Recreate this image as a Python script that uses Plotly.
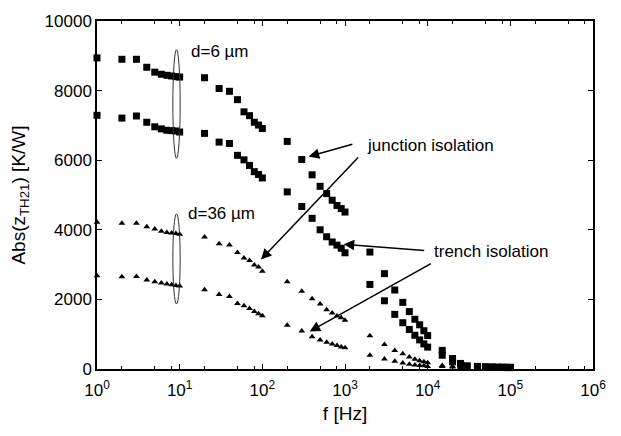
import plotly.graph_objects as go

# Frequency points (Hz)
freq = [1, 2, 3, 4, 5, 6, 7, 8, 9, 10,
        20, 30, 40, 50, 60, 70, 80, 90, 100,
        200, 300, 400, 500, 600, 700, 800, 900, 1000,
        2000, 3000, 4000, 5000, 6000, 7000, 8000, 9000, 10000,
        15000, 20000, 25000, 30000, 40000, 50000, 60000, 70000, 80000, 90000, 100000]

# |Z_TH21| in K/W, d = 6 um, junction isolation
junc_d6 = [8940, 8900, 8900, 8670, 8530, 8470, 8440, 8420, 8400, 8390,
           8370, 8060, 7980, 7740, 7390, 7280, 7090, 7010, 6910,
           6540, 6020, 5580, 5250, 5040, 4850, 4700, 4610, 4510,
           3360, 2740, 2270, 1915, 1650, 1430, 1270, 1100, 960,
           535, 300, 160, 90, 75, 65, 60, 55, 55, 50, 50]

# d = 6 um, trench isolation
trench_d6 = [7290, 7210, 7270, 7090, 6960, 6900, 6860, 6850, 6840, 6810,
             6770, 6520, 6480, 6140, 6010, 5850, 5670, 5590, 5490,
             5090, 4670, 4330, 4000, 3800, 3650, 3560, 3470, 3340,
             2430, 1960, 1570, 1330, 1136, 970, 836, 721, 629,
             394, 206, 140, 80, 65, 55, 50, 45, 45, 40, 40]

# d = 36 um, junction isolation
junc_d36 = [4220, 4190, 4190, 4090, 4020, 3960, 3925, 3905, 3895, 3870,
            3790, 3600, 3560, 3350, 3190, 3120, 2990, 2930, 2810,
            2510, 2235, 2020, 1870, 1700, 1606, 1520, 1473, 1400,
            958, 704, 535, 441, 347, 282, 234, 206, 178,
            100, 80, 50, 40, 35, 30, 30, 25, 25, 25, 25]

# d = 36 um, trench isolation
trench_d36 = [2680, 2650, 2660, 2560, 2510, 2470, 2440, 2420, 2400, 2385,
              2280, 2140, 2085, 1880, 1820, 1740, 1650, 1590, 1530,
              1258, 1090, 930, 836, 769, 721, 676, 629, 610,
              394, 290, 220, 175, 140, 113, 100, 90, 75,
              70, 60, 40, 30, 25, 20, 20, 20, 20, 20, 20]

x_tickvals = [1, 10, 100, 1000, 10000, 100000, 1000000]
x_ticktext = ["10<sup>0</sup>", "10<sup>1</sup>", "10<sup>2</sup>", "10<sup>3</sup>",
              "10<sup>4</sup>", "10<sup>5</sup>", "10<sup>6</sup>"]
x_minor = [m * 10 ** k for k in range(6) for m in (2, 5, 8)]
y_tickvals = [0, 2000, 4000, 6000, 8000, 10000]

FONT = "Liberation Sans, Arial, Helvetica, sans-serif"

fig = go.Figure()
for vals, sym, size in [(junc_d6, "square", 7), (trench_d6, "square", 7),
                        (junc_d36, "triangle-up", 6), (trench_d36, "triangle-up", 6)]:
    fig.add_trace(go.Scatter(x=freq, y=vals, mode="markers",
                             marker=dict(symbol=sym, size=size, color="black",
                                         line=dict(width=0)),
                             showlegend=False, cliponaxis=False))

# Ellipses grouping the curves at 10 Hz
for y0, y1 in [(6056, 9172), (1868, 4459)]:
    fig.add_shape(type="circle", xref="x", yref="y", x0=8.27, x1=10.14, y0=y0, y1=y1,
                  line=dict(color="#333333", width=1))

annotations = [
    dict(x=1.107, y=9127, text="d=6 µm"),
    dict(x=1.075, y=4459, text="d=36 µm"),
    dict(x=3.236, y=6431, text="junction isolation"),
    dict(x=4.048, y=3380, text="trench isolation"),
]
for a in annotations:
    fig.add_annotation(x=a["x"], y=a["y"], text=a["text"], showarrow=False,
                       xanchor="left", yanchor="middle", xref="x", yref="y",
                       font=dict(family=FONT, size=17, color="black"))

# Arrows: (tip_x_log, tip_y, tail_x_log, tail_y)
arrows = [(2.561, 6104, 3.107, 6470),
          (1.984, 3146, 3.176, 6121),
          (2.985, 3586, 3.976, 3400),
          (2.573, 1079, 4.057, 3051)]
for tx, ty, sx, sy in arrows:
    fig.add_annotation(x=tx, y=ty, ax=sx, ay=sy, xref="x", yref="y", axref="x", ayref="y",
                       text="", showarrow=True, arrowhead=2, arrowsize=1.4,
                       arrowwidth=1.5, arrowcolor="black")

axis_common = dict(showline=True, linecolor="black", linewidth=1.5, mirror="ticks",
                   ticks="inside", tickcolor="black", showgrid=False, zeroline=False)

fig.update_xaxes(type="log", range=[0, 6], tickvals=x_tickvals, ticktext=x_ticktext,
                 ticklen=5, tickwidth=1, ticklabelstandoff=5,
                 tickfont=dict(family=FONT, size=17, color="black"),
                 minor=dict(tickvals=x_minor, ticks="inside", ticklen=3, tickcolor="black"),
                 title=dict(text="f [Hz]", font=dict(family=FONT, size=19, color="black"),
                            standoff=8),
                 **axis_common)
fig.update_yaxes(range=[0, 10000], tickvals=y_tickvals, tickformat="d",
                 ticklen=5, tickwidth=1,
                 tickfont=dict(family=FONT, size=17, color="black"),
                 title=dict(text="Abs(z<sub>TH21</sub>) [K/W]",
                            font=dict(family=FONT, size=19, color="black"), standoff=14),
                 **axis_common)

fig.update_layout(width=621, height=436, plot_bgcolor="white", paper_bgcolor="white",
                  margin=dict(l=97, r=28, t=14, b=67),
                  font=dict(family=FONT, color="black"))

fig.write_html("out.html")
